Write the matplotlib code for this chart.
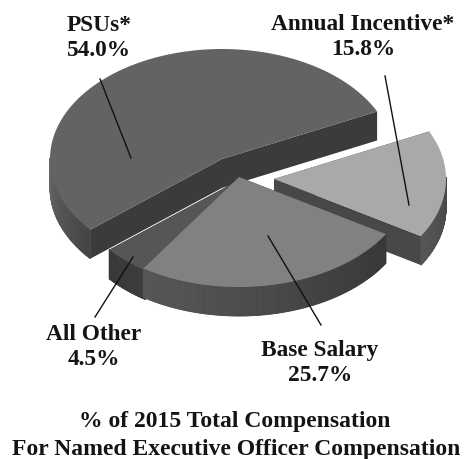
#!/usr/bin/env python3
"""Exploded 3D style pie of 2015 named executive officer compensation."""

import numpy as np
import matplotlib
matplotlib.use('Agg')
import matplotlib.pyplot as plt
from matplotlib.patches import Polygon
from matplotlib.collections import PolyCollection

plt.rcParams['font.family'] = ['Liberation Serif', 'DejaVu Serif']

# data, counter clockwise from the upper right
labels = ['PSUs*', 'All Other', 'Base Salary', 'Annual Incentive*']
values = [54.0, 4.5, 25.7, 15.8]
title_lines = ['% of 2015 Total Compensation', 'For Named Executive Officer Compensation']

# pie geometry in pixels
CX, CY = 222, 160
RX, RY = 172, 110
DEPTH = 29
START = 25.6  # angle where the PSU slice starts

offsets = {'PSUs*': (0, 0), 'All Other': (19, 20), 'Base Salary': (17, 18), 'Annual Incentive*': (52, 20)}
top_colors = {'PSUs*': '#636363', 'All Other': '#565656', 'Base Salary': '#818181', 'Annual Incentive*': '#a9a9a9'}
cut_colors = {'PSUs*': '#3b3b3b', 'All Other': '#383838', 'Base Salary': '#3a3a3a', 'Annual Incentive*': '#484848'}
wall_shades = {'PSUs*': (0.42, 0.26), 'All Other': (0.22, 0.24), 'Base Salary': (0.34, 0.22),
               'Annual Incentive*': (0.34, 0.28)}
label_pos = {'PSUs*': (99, 38), 'All Other': (94, 347), 'Base Salary': (320, 363), 'Annual Incentive*': (363, 37)}
leaders = {'PSUs*': ((100, 80), (131, 159)), 'All Other': ((95, 318), (133, 258)),
           'Base Salary': ((268, 237), (321, 326)), 'Annual Incentive*': ((385, 77), (409, 206))}
draw_order = ['PSUs*', 'Annual Incentive*', 'All Other', 'Base Salary']


def rim(t_deg, ox, oy, drop=0):
    t = np.radians(t_deg)
    return CX + ox + RX * np.cos(t), CY + oy - RY * np.sin(t) + drop


def draw_slice(ax, name, t0, t1, z):
    """Draw one slice from angle t0 to t1 (degrees, t1 > t0)."""
    ox, oy = offsets[name]
    apex = (CX + ox, CY + oy)
    apex_low = (CX + ox, CY + oy + DEPTH)

    # cut faces along the two straight edges
    for t in (t0, t1):
        p = rim(t, ox, oy)
        q = rim(t, ox, oy, DEPTH)
        ax.add_patch(Polygon([apex, p, q, apex_low], closed=True, fc=cut_colors[name], ec='none', zorder=z))

    # outer wall, only the part facing the viewer
    ts = np.linspace(t0, t1, 240)
    ts = ts[np.sin(np.radians(ts)) <= 0.02]
    if len(ts) > 1:
        c0, c1 = wall_shades[name]
        quads, shades = [], []
        for i in range(len(ts) - 1):
            a, b = ts[i], ts[i + 1]
            quads.append([rim(a, ox, oy), rim(b, ox, oy), rim(b, ox, oy, DEPTH), rim(a, ox, oy, DEPTH)])
            g = c0 + (c1 - c0) * i / max(len(ts) - 2, 1)
            shades.append((g, g, g))
        ax.add_collection(PolyCollection(quads, facecolors=shades, edgecolors=shades, linewidths=0.6,
                                         zorder=z + 0.1))

    # top face
    arc = np.linspace(t0, t1, 200)
    pts = [apex] + [rim(t, ox, oy) for t in arc]
    ax.add_patch(Polygon(pts, closed=True, fc=top_colors[name], ec='none', zorder=z + 0.2))


def main():
    fig = plt.figure(figsize=(4.65, 4.6), dpi=100)
    ax = fig.add_axes([0, 0, 1, 1])
    ax.set_xlim(0, 465)
    ax.set_ylim(460, 0)
    ax.axis('off')

    # turn shares into angles
    spans = np.array(values) / sum(values) * 360
    angles = {}
    t = START
    for name, span in zip(labels, spans):
        angles[name] = (t, t + span)
        t += span

    for i, name in enumerate(draw_order):
        draw_slice(ax, name, *angles[name], 2 + i)

    for name, pct in zip(labels, values):
        (x0, y0), (x1, y1) = leaders[name]
        ax.plot([x0, x1], [y0, y1], color='#111111', lw=1.0, zorder=10)
        x, y = label_pos[name]
        ax.text(x, y, f'{name}\n{pct:.1f}%', ha='center', va='center', fontsize=16.8,
                fontweight='bold', color='#141414', linespacing=1.28, zorder=11)

    ax.text(235, 422, title_lines[0], ha='center', va='center', fontsize=17, fontweight='bold', color='#141414')
    ax.text(236, 450, title_lines[1], ha='center', va='center', fontsize=17, fontweight='bold', color='#141414')

    fig.savefig('out.png', dpi=100, facecolor='white')


if __name__ == '__main__':
    main()
